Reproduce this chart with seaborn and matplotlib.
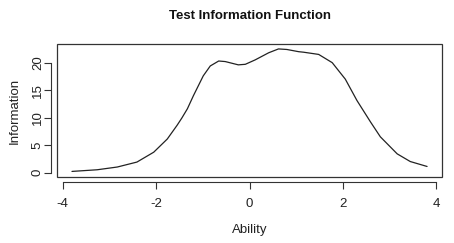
import numpy as np
import pandas as pd
import matplotlib as mpl
mpl.use("Agg")
import matplotlib.pyplot as plt
from matplotlib.patches import Rectangle
import seaborn as sns

sns.set_style("white")
plt.rcParams['font.family'] = ['Liberation Sans', 'DejaVu Sans']

# test information curve
ability = [-3.80, -3.26, -2.83, -2.41, -2.05, -1.76, -1.55, -1.45, -1.33, -1.20,
           -0.99, -0.84, -0.66, -0.52, -0.24, -0.09, 0.12, 0.41, 0.62, 0.80,
           1.05, 1.16, 1.48, 1.77, 2.05, 2.30, 2.59, 2.80, 3.16, 3.44, 3.80]
information = [0.2, 0.5, 1.0, 1.9, 3.7, 6.1, 8.6, 9.9, 11.6, 14.0,
               17.6, 19.4, 20.3, 20.2, 19.6, 19.7, 20.5, 21.8, 22.5, 22.4,
               22.0, 21.9, 21.5, 20.0, 17.0, 13.1, 9.2, 6.5, 3.4, 2.0, 1.1]
xticks = [-4, -2, 0, 2, 4]
yticks = [0, 5, 10, 15, 20]

df = pd.DataFrame({"Ability": ability, "Information": information})

fig = plt.figure(figsize=(4.54, 2.43), dpi=100)
ax = fig.add_axes([0.1256, 0.272, 0.848, 0.547])
sns.lineplot(data=df, x="Ability", y="Information", ax=ax,
             color="#222222", linewidth=0.9)

ax.set_xlim(-4.12, 4.12)
ax.set_ylim(-0.8, 23.4)
ax.set_xticks(xticks)
ax.set_yticks(yticks)
ax.set_xticklabels([str(t) for t in xticks])
ax.set_yticklabels([str(t) for t in yticks])

# R style: separate axes below/left of the box
sns.despine(ax=ax, offset=4, trim=True)
for s in ["left", "bottom"]:
    ax.spines[s].set_color("#333333")
    ax.spines[s].set_linewidth(0.8)
ax.add_patch(Rectangle((0, 0), 1, 1, transform=ax.transAxes, fill=False,
                       edgecolor="#333333", linewidth=0.9, clip_on=False))

ax.tick_params(axis="both", direction="out", length=5, width=0.8,
               color="#333333", labelsize=9.5, labelcolor="#222222", pad=6,
               bottom=True, left=True)
ax.tick_params(axis="y", labelrotation=90, pad=0.5)
for lab in ax.get_yticklabels():
    lab.set_va("center")

ax.set_xlabel("Ability", fontsize=9.5, color="#222222", labelpad=10)
ax.set_ylabel("Information", fontsize=9.5, color="#222222", labelpad=8)
fig.text(0.550, 0.934, "Test Information Function", ha="center", va="center",
         fontsize=9.5, fontweight="bold", color="#111111")

fig.savefig("out.png", dpi=100)
